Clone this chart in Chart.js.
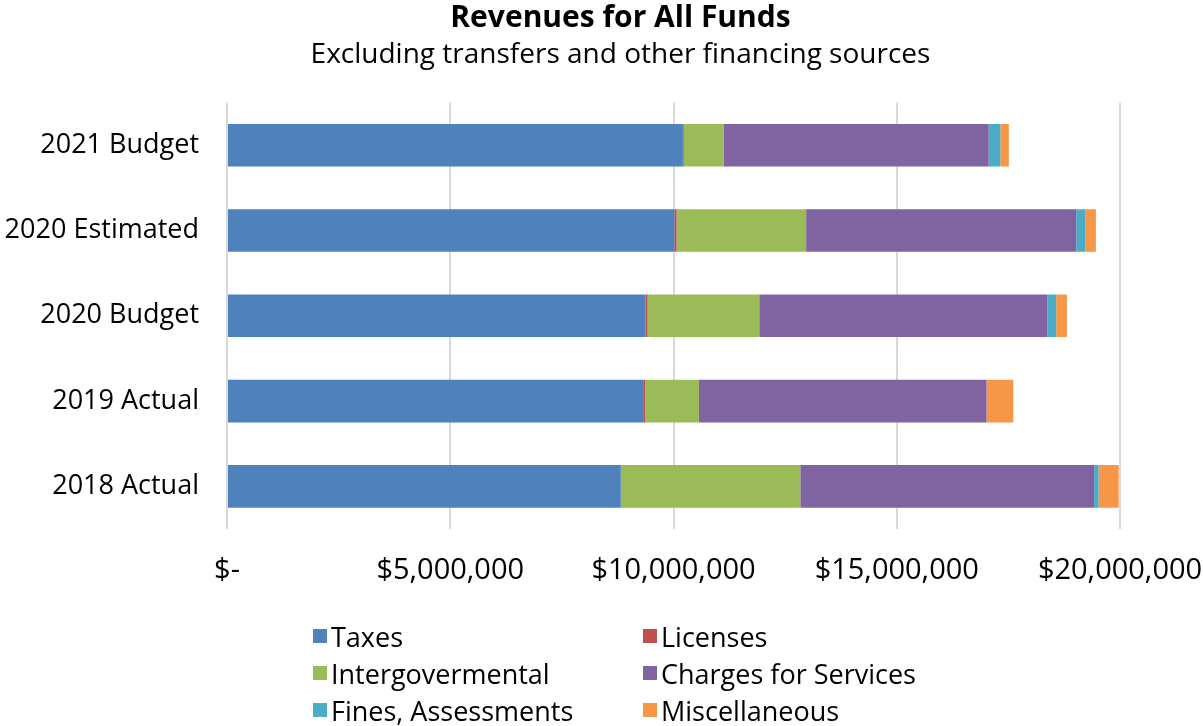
<!DOCTYPE html>
<html>
<head>
<meta charset="utf-8">
<script src="https://cdn.jsdelivr.net/npm/chart.js@4/dist/chart.umd.min.js"></script>
<style>
  html, body { margin: 0; padding: 0; background: #fff; }
  #wrap { position: relative; width: 1203px; height: 726px; }
  #legend { position: absolute; left: 313px; top: 620px; display: grid; grid-template-columns: 330px 300px; row-gap: 5px;
    font-family: "Open Sans", sans-serif; font-size: 27px; color: #000; }
  #legend .item { display: flex; align-items: center; height: 32px; white-space: nowrap; }
  #legend .sw { width: 14px; height: 14px; margin-right: 4px; display: inline-block; }
</style>
</head>
<body>
<div id="wrap">
  <canvas id="c" width="1203" height="726"></canvas>
  <div id="legend"></div>
</div>
<script>
const categories = ['2021 Budget', '2020 Estimated', '2020 Budget', '2019 Actual', '2018 Actual'];
const taxes        = [10210000, 10020000, 9370000, 9320000, 8820000];
const licenses     = [20000, 50000, 50000, 50000, 0];
const intergov     = [890000, 2900000, 2500000, 1200000, 4020000];
const charges      = [5940000, 6050000, 6450000, 6440000, 6580000];
const fines        = [260000, 200000, 200000, 0, 100000];
const misc         = [190000, 240000, 240000, 600000, 450000];
const seriesNames  = ['Taxes', 'Licenses', 'Intergovermental', 'Charges for Services', 'Fines, Assessments', 'Miscellaneous'];
const seriesColors = ['#4F81BD', '#C0504D', '#9BBB59', '#8064A2', '#4BACC6', '#F79646'];
const seriesData   = [taxes, licenses, intergov, charges, fines, misc];
const xTicks = [0, 5000000, 10000000, 15000000, 20000000];
const titleText = 'Revenues for All Funds';
const subtitleText = 'Excluding transfers and other financing sources';

const FONT = '"Open Sans", sans-serif';

const datasets = seriesNames.map((n, i) => ({
  label: n,
  data: seriesData[i],
  backgroundColor: seriesColors[i],
  borderWidth: 0,
  categoryPercentage: 1,
  barPercentage: 0.5
}));

const shiftTitles = {
  id: 'shiftTitles',
  afterLayout(chart) {
    chart.boxes.forEach(b => {
      if (b.options && (b.options.text === titleText || b.options.text === subtitleText)) {
        b.left = 38;
      }
    });
  }
};

new Chart(document.getElementById('c'), {
  type: 'bar',
  data: { labels: categories, datasets },
  plugins: [shiftTitles],
  options: {
    indexAxis: 'y',
    responsive: false,
    animation: false,
    layout: { padding: { left: 0, right: 0, top: 0, bottom: 137 } },
    plugins: {
      legend: { display: false },
      tooltip: { enabled: false },
      title: {
        display: true,
        text: titleText,
        color: '#000',
        font: { family: FONT, size: 30, weight: 'bold' },
        padding: { top: 0, bottom: 1 }
      },
      subtitle: {
        display: true,
        text: subtitleText,
        color: '#000',
        font: { family: FONT, size: 28 },
        padding: { top: 1, bottom: 31 }
      }
    },
    scales: {
      x: {
        stacked: true,
        min: 0,
        max: 20000000,
        afterBuildTicks: (s) => { s.ticks = xTicks.map(v => ({ value: v })); },
        afterFit: (s) => { s.height = 60; s.paddingRight = 83; s.paddingLeft = 0; },
        grid: { color: '#d9d9d9', lineWidth: 2, drawTicks: false },
        border: { display: false },
        ticks: {
          padding: 24,
          color: '#000',
          maxRotation: 0,
          font: { family: FONT, size: 29 },
          callback: (v) => v === 0 ? '$-' : '$' + Number(v).toLocaleString('en-US')
        }
      },
      y: {
        stacked: true,
        afterFit: (s) => { s.width = 227; },
        grid: { display: false, drawTicks: false },
        border: { display: false },
        ticks: {
          padding: 28,
          color: '#000',
          font: { family: FONT, size: 27 }
        }
      }
    }
  }
});

const lg = document.getElementById('legend');
seriesNames.forEach((n, i) => {
  const d = document.createElement('div');
  d.className = 'item';
  d.innerHTML = '<span class="sw" style="background:' + seriesColors[i] + '"></span>' + n;
  lg.appendChild(d);
});
</script>
</body>
</html>
